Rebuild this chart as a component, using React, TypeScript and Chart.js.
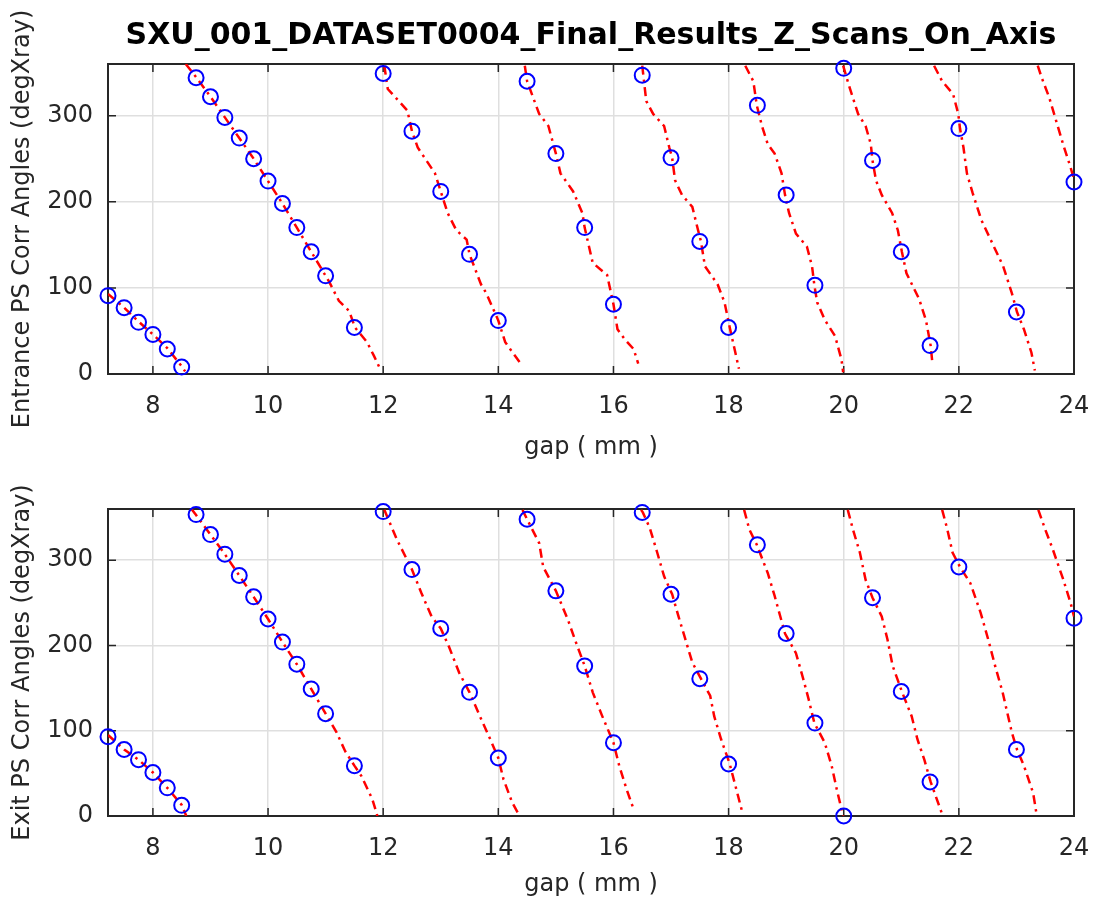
import React, { useEffect, useRef } from "react";
import { Chart, registerables } from "chart.js";

Chart.register(...registerables);

// ---------- text ----------
const TITLE = "SXU_001_DATASET0004_Final_Results_Z_Scans_On_Axis";
const X_LABEL = "gap ( mm )";
const ENTRANCE_LABEL = "Entrance PS Corr Angles (degXray)";
const EXIT_LABEL = "Exit PS Corr Angles (degXray)";

// ---------- axes ----------
const xTicks = [8, 10, 12, 14, 16, 18, 20, 22, 24];
const yTicks = [0, 100, 200, 300];
const gapMin = 7.22;
const gapMax = 24;
const angleMin = 0;
const angleMax = 360;

// ---------- measured points (blue circles) ----------
const measuredGap = [
  7.22, 7.5, 7.75, 8, 8.25, 8.5, 8.75, 9, 9.25, 9.5, 9.75, 10, 10.25, 10.5, 10.75, 11,
  11.5, 12, 12.5, 13, 13.5, 14, 14.5, 15, 15.5, 16, 16.5, 17, 17.5, 18, 18.5, 19, 19.5,
  20, 20.5, 21, 21.5, 22, 23, 24,
];
const entranceAngle = [
  91, 77, 60, 46, 29, 8, 344, 322, 298, 274, 250, 224, 198, 170, 142, 114,
  54, 349, 282, 212, 139, 62, 340, 256, 170, 81, 347, 251, 154, 54, 312, 208, 103,
  355, 248, 142, 33, 285, 72, 223,
];
const exitAngle = [
  93, 78, 66, 51, 33, 12.5, 353.5, 330, 307, 282, 257, 231, 204, 178, 149, 120,
  59, 357, 289, 220, 145, 68, 348, 264, 176, 86, 356, 260, 161, 61, 318, 214, 109,
  0, 256, 146, 40, 292, 78, 232,
];

// ---------- model curves (red dash-dot), null = wrap break ----------
const entranceCurveGap = [
  7.22, 7.5, 7.75, 8, 8.25, 8.5, 8.56, null,
  8.57, 8.76, 9, 9.25, 9.5, 9.75, 10, 10.25, 10.5, 10.75, 11, 11.07, 11.23, 11.41, 11.51, 11.72, 11.84, 11.96, null,
  12.02, 12.08, 12.42, 12.5, 12.6, 12.9, 13.0, 13.12, 13.27, 13.45, 13.5, 13.7, 13.79, 14.0, 14.12, 14.27, 14.39, null,
  14.46, 14.5, 14.71, 14.87, 15.0, 15.08, 15.3, 15.46, 15.5, 15.64, 15.89, 16.0, 16.07, 16.2, 16.35, 16.43, null,
  16.5, 16.57, 16.69, 16.88, 16.97, 17.02, 17.07, 17.19, 17.37, 17.47, 17.52, 17.59, 17.81, 17.93, 18.02, 18.09, 18.18, null,
  18.29, 18.43, 18.49, 18.58, 18.68, 18.8, 18.92, 18.98, 19.05, 19.17, 19.36, 19.45, 19.49, 19.54, 19.67, 19.85, 19.96, 19.99, null,
  19.99, 20.1, 20.25, 20.38, 20.47, 20.5, 20.56, 20.66, 20.84, 20.94, 21.01, 21.09, 21.31, 21.43, 21.51, 21.54, null,
  21.57, 21.71, 21.9, 21.99, 22.02, 22.08, 22.14, 22.24, 22.39, 22.58, 22.77, 22.92, 23.01, 23.13, 23.26, 23.32, null,
  23.37, 23.44, 23.57, 23.69, 23.81, 23.94, 24.0,
];
const entranceCurveAngle = [
  93, 77, 61, 46, 30, 9, 3, null,
  360, 344, 322, 298, 274, 250, 224, 198, 170, 142, 114, 106, 85, 73, 54, 37, 21, 4, null,
  358, 331, 306, 282, 263, 233, 212, 187, 167, 156, 139, 104, 94, 62, 37, 23, 12, null,
  358, 340, 302, 288, 256, 233, 212, 187, 170, 129, 115, 81, 52, 40, 29, 12, null,
  358, 317, 302, 288, 263, 251, 225, 208, 194, 167, 154, 125, 104, 83, 54, 33, 6, null,
  358, 340, 312, 288, 267, 256, 233, 208, 187, 163, 148, 125, 103, 83, 63, 44, 17, 2, null,
  358, 333, 302, 288, 267, 248, 225, 208, 187, 167, 142, 117, 87, 62, 33, 13, null,
  358, 340, 325, 302, 285, 263, 233, 210, 179, 152, 125, 94, 72, 52, 25, 4, null,
  358, 344, 321, 294, 267, 240, 226,
];
const exitCurveGap = [
  7.22, 7.5, 7.75, 8, 8.25, 8.5, 8.58, null,
  8.67, 8.75, 9, 9.25, 9.5, 9.75, 10, 10.25, 10.5, 10.75, 11, 11.19, 11.34, 11.5, 11.62, 11.81, 11.9, null,
  12.02, 12.24, 12.5, 12.66, 12.84, 13.0, 13.14, 13.32, 13.5, 13.68, 13.86, 14.0, 14.09, 14.24, 14.37, null,
  14.42, 14.5, 14.71, 14.78, 15.0, 15.21, 15.33, 15.5, 15.64, 15.8, 16.0, 16.1, 16.23, 16.35, null,
  16.48, 16.51, 16.63, 16.76, 16.88, 17.02, 17.13, 17.25, 17.37, 17.52, 17.68, 17.75, 17.87, 18.02, 18.12, 18.24, null,
  18.27, 18.36, 18.49, 18.68, 18.8, 18.98, 19.17, 19.3, 19.39, 19.49, 19.67, 19.79, 19.88, 19.99, null,
  20.07, 20.16, 20.28, 20.38, 20.5, 20.66, 20.76, 20.85, 21.01, 21.18, 21.28, 21.4, 21.51, 21.7, null,
  21.71, 21.8, 21.89, 22.02, 22.2, 22.38, 22.51, 22.63, 22.76, 22.92, 23.01, 23.13, 23.29, 23.35, null,
  23.38, 23.5, 23.63, 23.81, 23.94, 24.0,
];
const exitCurveAngle = [
  95, 78, 66, 51, 33, 13, 0, null,
  360, 353, 330, 307, 282, 257, 231, 204, 178, 149, 120, 98, 76, 59, 47, 20, 0, null,
  359, 324, 289, 262, 234, 220, 199, 168, 145, 117, 90, 68, 43, 16, 0, null,
  359, 348, 320, 292, 264, 230, 207, 176, 145, 118, 86, 59, 31, 8, null,
  359, 356, 338, 309, 281, 260, 234, 207, 180, 161, 141, 117, 90, 61, 35, 4, null,
  359, 336, 318, 285, 258, 214, 191, 160, 137, 109, 86, 59, 31, 0, null,
  359, 336, 309, 277, 256, 234, 207, 176, 146, 117, 90, 66, 40, 4, null,
  359, 336, 309, 292, 273, 238, 207, 176, 145, 98, 78, 59, 27, 2, null,
  359, 336, 313, 278, 250, 234,
];

// ---------- style ----------
const FONT = "DejaVu Sans";
const TEXT_COLOR = "#262626";
const AXIS_COLOR = "#262626";
const GRID_COLOR = "#dfdfdf";
const MARKER_COLOR = "#0000ff";
const CURVE_COLOR = "#ff0000";

const toPoints = (xs: (number | null)[], ys: (number | null)[]) =>
  xs.map((x, i) => ({ x: x as number, y: ys[i] as number }));

const matlabBoxPlugin = {
  id: "matlabBox",
  beforeDatasetsDraw(chart: any) {
    const { ctx, chartArea: a, scales } = chart;
    const L = 8;
    ctx.save();
    ctx.strokeStyle = AXIS_COLOR;
    ctx.lineWidth = 1.5;
    ctx.beginPath();
    for (const t of scales.x.ticks) {
      const px = scales.x.getPixelForValue(t.value);
      ctx.moveTo(px, a.bottom);
      ctx.lineTo(px, a.bottom - L);
      ctx.moveTo(px, a.top);
      ctx.lineTo(px, a.top + L);
    }
    for (const t of scales.y.ticks) {
      const py = scales.y.getPixelForValue(t.value);
      ctx.moveTo(a.left, py);
      ctx.lineTo(a.left + L, py);
      ctx.moveTo(a.right, py);
      ctx.lineTo(a.right - L, py);
    }
    ctx.stroke();
    ctx.lineWidth = 2;
    ctx.strokeRect(a.left, a.top, a.right - a.left, a.bottom - a.top);
    ctx.restore();
  },
};

type PanelProps = {
  top: number;
  height: number;
  yLabel: string;
  angles: number[];
  curveGap: (number | null)[];
  curveAngle: (number | null)[];
  withTitle: boolean;
  padTop: number;
  xAxisHeight: number;
  xTitlePadBottom: number;
};

function Panel(p: PanelProps) {
  const ref = useRef<HTMLCanvasElement | null>(null);
  useEffect(() => {
    if (!ref.current) return;
    const chart = new Chart(ref.current, {
      type: "line",
      data: {
        datasets: [
          {
            type: "line",
            data: toPoints(p.curveGap, p.curveAngle),
            borderColor: CURVE_COLOR,
            borderWidth: 2.5,
            borderDash: [9, 5, 2.5, 5],
            pointRadius: 0,
            spanGaps: false,
            fill: false,
            order: 2,
          } as any,
          {
            type: "scatter",
            data: toPoints(measuredGap, p.angles),
            borderColor: MARKER_COLOR,
            backgroundColor: "rgba(0,0,0,0)",
            borderWidth: 2,
            pointRadius: 7.5,
            pointStyle: "circle",
            showLine: false,
            clip: false,
            order: 1,
          } as any,
        ],
      },
      options: {
        responsive: false,
        animation: false,
        events: [],
        layout: { padding: { left: 0, right: 24, top: p.padTop, bottom: 0 } },
        plugins: {
          legend: { display: false },
          tooltip: { enabled: false },
          title: {
            display: p.withTitle,
            text: TITLE,
            fullSize: false,
            color: "#000",
            font: { family: FONT, size: 30, weight: "bold" },
            padding: { top: 18, bottom: 10 },
          },
        },
        scales: {
          x: {
            type: "linear",
            min: gapMin,
            max: gapMax,
            afterBuildTicks: (s: any) => {
              s.ticks = xTicks.map((v) => ({ value: v }));
            },
            afterFit: (s: any) => {
              s.height = p.xAxisHeight;
              s.paddingLeft = 0;
              s.paddingRight = 0;
            },
            grid: { color: GRID_COLOR, lineWidth: 1.5, drawTicks: false },
            border: { display: false },
            ticks: {
              color: TEXT_COLOR,
              font: { family: FONT, size: 24 },
              padding: 18,
              maxRotation: 0,
              autoSkip: false,
            },
            title: {
              display: true,
              text: X_LABEL,
              color: TEXT_COLOR,
              font: { family: FONT, size: 24 },
              padding: { top: 0, bottom: p.xTitlePadBottom },
            },
          },
          y: {
            type: "linear",
            min: angleMin,
            max: angleMax,
            afterBuildTicks: (s: any) => {
              s.ticks = yTicks.map((v) => ({ value: v }));
            },
            afterFit: (s: any) => {
              s.width = 108;
              s.paddingTop = 0;
              s.paddingBottom = 0;
            },
            grid: { color: GRID_COLOR, lineWidth: 1.5, drawTicks: false },
            border: { display: false },
            ticks: {
              color: TEXT_COLOR,
              font: { family: FONT, size: 24 },
              padding: 15,
              autoSkip: false,
            },
            title: {
              display: true,
              text: p.yLabel,
              color: TEXT_COLOR,
              font: { family: FONT, size: 24 },
              padding: { top: 8, bottom: 0 },
            },
          },
        },
      },
      plugins: [matlabBoxPlugin],
    } as any);
    return () => chart.destroy();
  }, []);
  return (
    <canvas
      ref={ref}
      width={1098}
      height={p.height}
      style={{ position: "absolute", left: 0, top: p.top, width: 1098, height: p.height }}
    />
  );
}

export default function App() {
  return (
    <div style={{ position: "absolute", left: 0, top: 0, width: 1098, height: 909, background: "#fff" }}>
      <Panel
        top={0}
        height={470}
        yLabel={ENTRANCE_LABEL}
        angles={entranceAngle}
        curveGap={entranceCurveGap}
        curveAngle={entranceCurveAngle}
        withTitle={true}
        padTop={0}
        xAxisHeight={96}
        xTitlePadBottom={7.6}
      />
      <Panel
        top={470}
        height={439}
        yLabel={EXIT_LABEL}
        angles={exitAngle}
        curveGap={exitCurveGap}
        curveAngle={exitCurveAngle}
        withTitle={false}
        padTop={39}
        xAxisHeight={93}
        xTitlePadBottom={9.6}
      />
    </div>
  );
}
